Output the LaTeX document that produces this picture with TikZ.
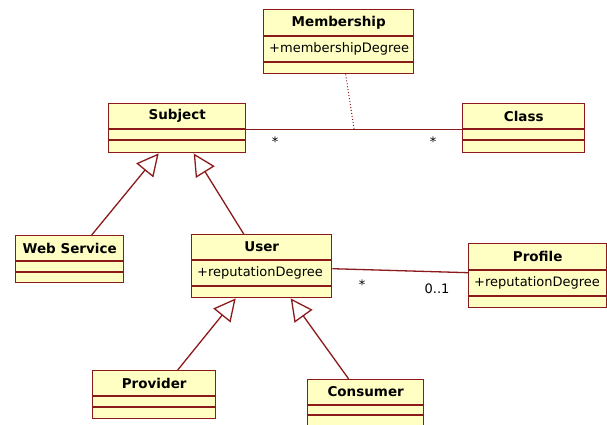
\documentclass[tikz,border=0pt]{standalone}
\usepackage{fontspec}
\setmainfont{DejaVu Sans}
\usetikzlibrary{arrows.meta,calc}
\definecolor{umlline}{RGB}{139,26,26}
\definecolor{umlfill}{RGB}{255,255,196}
\tikzset{
  cls/.style={draw=umlline, fill=umlfill, line width=1.4pt, inner sep=0pt, anchor=north west},
  divider/.style={draw=umlline, line width=1.4pt},
  clstitle/.style={font=\fontsize{13.5}{15}\selectfont\bfseries, inner sep=0pt},
  clsattr/.style={font=\fontsize{13}{15}\selectfont, inner sep=0pt, anchor=west},
  mult/.style={font=\fontsize{13}{15}\selectfont, inner sep=0pt},
  gen/.style={draw=umlline, line width=1.3pt, -{Triangle[open, length=22pt, width=22pt, fill=white]}},
  assoc/.style={draw=umlline, line width=1.3pt},
  anchorline/.style={draw=umlline, line width=1pt, dotted},
}
% #1 name, #2 x, #3 y, #4 width, #5 h1, #6 h2, #7 h3, #8 title, #9 attribute
\newcommand\umlclass[9]{%
  \node[cls, minimum width=#4pt, minimum height={(#5+#6+#7)*1pt}] (#1) at (#2,#3) {};
  \draw[divider] ($(#1.north west)+(0,#5)$) -- ($(#1.north east)+(0,#5)$);
  \draw[divider] ($(#1.north west)+(0,#5+#6)$) -- ($(#1.north east)+(0,#5+#6)$);
  \node[clstitle] (#1-t) at ($(#1.north)+(0,#5/2)$) {#8};
  \node[clsattr] (#1-a) at ($(#1.north west)+(6,#5+#6/2)$) {#9};
}
\begin{document}
\begin{tikzpicture}[x=1pt, y=-1pt]
\clip (0,0) rectangle (607,425);
\fill[white] (0,0) rectangle (607,425);
\umlclass{membership}{263}{9}{150}{27}{26}{11}{Membership}{+membershipDegree}
\umlclass{subject}{108}{103}{137}{26}{11}{12}{Subject}{}
\umlclass{class}{462}{103}{122}{26}{11}{12}{Class}{}
\umlclass{web}{15}{235}{108}{26}{11}{10}{Web Service}{}
\umlclass{user}{191}{234}{140}{26}{26}{11}{User}{+reputationDegree}
\umlclass{profile}{468}{243}{138}{27}{26}{11}{Profile}{+reputationDegree}
\umlclass{provider}{92}{370}{123}{26}{11}{11}{Provider}{}
\umlclass{consumer}{307}{379}{116}{26}{10}{20}{Consumer}{}
% association Subject -- Class
\draw[assoc] ($(subject.east)+(0,1.5)$) coordinate (sc-a) -- ($(class.west)+(0,1.5)$) coordinate (sc-b);
\coordinate (sc-mid) at ($(sc-a)!0.5!(sc-b)$);
\draw[anchorline] ($(membership.south)+(7,0)$) -- (sc-mid);
\node[mult] (m1) at (275,142) {*};
\node[mult] (m2) at (433,142) {*};
% association User -- Profile
\draw[assoc] ($(user.east)+(0,2.5)$) -- ($(profile.west)+(0,-3)$);
\node[mult] (m3) at (362,285) {*};
\node[mult] (m4) at (437,289) {0..1};
% generalizations
\draw[gen] ($(web.north)+(22,0)$) -- ($(subject.south)+(-18.5,0)$);
\draw[gen] ($(user.north)+(-18,0)$) -- ($(subject.south)+(16.5,0)$);
\draw[gen] ($(provider.north)+(23.5,0)$) -- ($(user.south)+(-26,0)$);
\draw[gen] ($(consumer.north)+(-17,0)$) -- ($(user.south)+(29,0)$);
\end{tikzpicture}
\end{document}
